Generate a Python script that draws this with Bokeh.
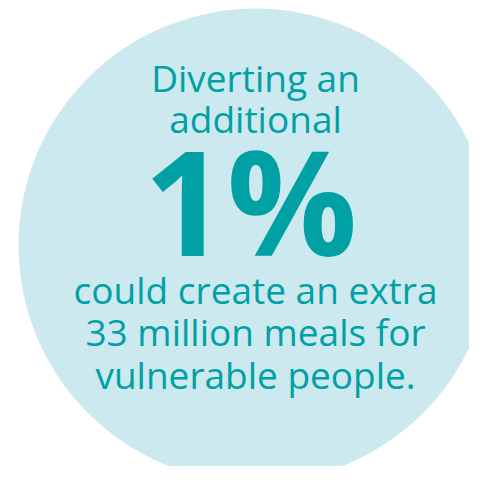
from bokeh.plotting import figure
from bokeh.models import Range1d, ColumnDataSource
from bokeh.core.properties import value
from bokeh.embed import file_html
from bokeh.resources import INLINE

# Content
headline_top = ["Diverting an", "additional"]
big_value = ["1%"]
headline_bottom = ["could create an extra", "33 million meals for", "vulnerable people."]

TEAL = "#00a0a5"
PALE = "#cbe9ee"
FONT = "Open Sans"

W, H = 469, 466
p = figure(width=W, height=H, output_backend="svg", toolbar_location=None,
           x_range=Range1d(0, W), y_range=Range1d(H, 0),
           min_border=0, outline_line_color=None, background_fill_color="white",
           border_fill_color="white")
p.axis.visible = False
p.grid.visible = False

cx, cy, r = 255, 245, 237
p.circle(x=[cx], y=[cy], radius=r, fill_color=PALE, line_color=None)

SMALL = 37
BIG = 145
SHIFT = 0.44  # anchor-to-baseline offset, in em


def anchor(baseline, size):
    return baseline - SHIFT * size


top_src = ColumnDataSource(dict(x=[cx] * len(headline_top),
                                y=[anchor(93 + 41 * i, SMALL) for i in range(len(headline_top))],
                                t=headline_top))
p.text(x="x", y="y", text="t", source=top_src, text_align="center",
       text_baseline="alphabetic", text_color=TEAL, text_font=value(FONT),
       text_font_size=f"{SMALL}px")

big_src = ColumnDataSource(dict(x=[cx - 5], y=[anchor(263, BIG)], t=big_value))
p.text(x="x", y="y", text="t", source=big_src, text_align="center",
       text_baseline="alphabetic", text_color=TEAL, text_font=value(FONT),
       text_font_size=f"{BIG}px", text_font_style="bold")

bot_src = ColumnDataSource(dict(x=[cx] * len(headline_bottom),
                                y=[anchor(305 + 42.5 * i, SMALL) for i in range(len(headline_bottom))],
                                t=headline_bottom))
p.text(x="x", y="y", text="t", source=bot_src, text_align="center",
       text_baseline="alphabetic", text_color=TEAL, text_font=value(FONT),
       text_font_size=f"{SMALL}px")

open("out.html", "w").write(file_html(p, INLINE))
